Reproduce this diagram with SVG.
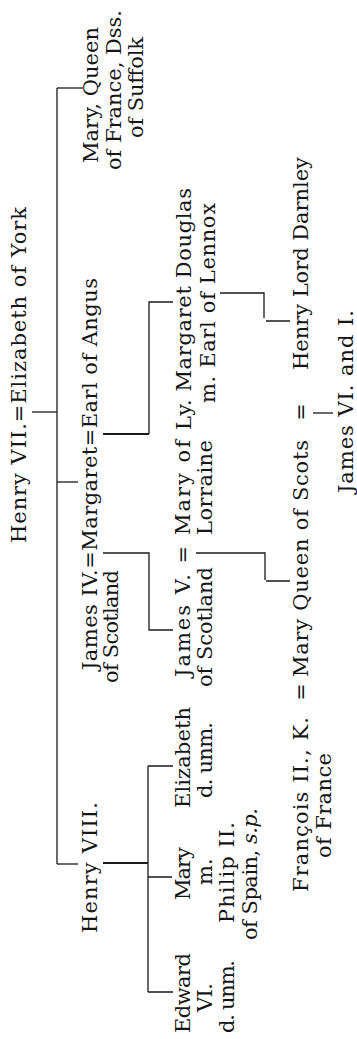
<svg xmlns="http://www.w3.org/2000/svg" width="357" height="1039" viewBox="0 0 357 1039">
<style>
text{font-family:"DejaVu Serif","Liberation Serif",serif;font-size:21px;fill:#151515}
.c{fill:none;stroke:#1a1a1a;stroke-width:1.3}
.k{fill:none;stroke:#1a1a1a;stroke-width:2.2}
</style>
<rect width="357" height="1039" fill="#fff"/>
<g id="connectors">
<path class="c" d="M32,412 H57"/>
<path class="c" d="M57,88 V864"/>
<path class="c" d="M57,88 H83"/>
<path class="c" d="M57,482 H78"/>
<path class="c" d="M57,864 H78"/>
<path class="k" d="M103,863 H148"/>
<path class="c" d="M148,766 V992"/>
<path class="c" d="M148,766 H173 M148,877 H172 M148,992 H173"/>
<path class="c" d="M103,553 H149 V630 H173"/>
<path class="k" d="M103,434 H149"/>
<path class="c" d="M149,434 V302 H173"/>
<path class="c" d="M196,553 H265 V580 M266,581 H290"/>
<path class="c" d="M220,293 H264 V318 M266,321 H290"/>
<path class="c" d="M313,413 H333"/>
</g>
<g id="henry7-elizabeth">
<text transform="translate(26 543) rotate(-90)" textLength="336">Henry VII.=Elizabeth of York</text>
</g>
<g id="mary-queen-of-france">
<text transform="translate(98 163) rotate(-90)" textLength="136">Mary, Queen</text>
<text transform="translate(121 170) rotate(-90)" textLength="160">of France, Dss.</text>
<text transform="translate(143 138) rotate(-90)" textLength="101">of Suffolk</text>
</g>
<g id="margaret">
<text transform="translate(97 670) rotate(-90)" textLength="392">James IV.=Margaret=Earl of Angus</text>
<text transform="translate(118 683) rotate(-90)" textLength="113">of Scotland</text>
</g>
<g id="henry8">
<text transform="translate(97 933) rotate(-90)" textLength="131">Henry VIII.</text>
</g>
<g id="elizabeth">
<text transform="translate(190 808) rotate(-90)" textLength="101">Elizabeth</text>
<text transform="translate(212 798) rotate(-90)" textLength="76">d. unm.</text>
</g>
<g id="mary-tudor">
<text transform="translate(190 900) rotate(-90)" textLength="53">Mary</text>
<text transform="translate(212 885) rotate(-90)">m.</text>
<text transform="translate(234 923) rotate(-90)" textLength="101">Philip II.</text>
<text transform="translate(257 940) rotate(-90)" textLength="132">of Spain, <tspan font-style="italic">s.p.</tspan></text>
</g>
<g id="edward6">
<text transform="translate(190 1033) rotate(-90)" textLength="80">Edward</text>
<text transform="translate(212 1012) rotate(-90)" textLength="29">VI.</text>
<text transform="translate(234 1033) rotate(-90)" textLength="73">d. unm.</text>
</g>
<g id="james5">
<text transform="translate(190 677) rotate(-90)" textLength="237">James V. = Mary of</text>
<text transform="translate(212 687) rotate(-90)" textLength="120">of Scotland</text>
<text transform="translate(212 535) rotate(-90)" textLength="95">Lorraine</text>
</g>
<g id="ly-margaret-douglas">
<text transform="translate(191 430) rotate(-90)" textLength="242">Ly. Margaret Douglas</text>
<text transform="translate(215 403) rotate(-90)" textLength="200">m. Earl of Lennox</text>
</g>
<g id="francois2">
<text transform="translate(308 892) rotate(-90)" textLength="175">François II., K.</text>
<text transform="translate(331 858) rotate(-90)" textLength="105">of France</text>
</g>
<g id="mary-queen-of-scots">
<text transform="translate(308 677) rotate(-90)" textLength="237">Mary Queen of Scots</text>
</g>
<g id="darnley">
<text transform="translate(308 370) rotate(-90)" textLength="213">Henry Lord Darnley</text>
</g>
<g id="marriages">
<text transform="translate(308 692) rotate(-90)" text-anchor="middle">=</text>
<text transform="translate(308 412) rotate(-90)" text-anchor="middle">=</text>
</g>
<g id="james6">
<text transform="translate(353 493) rotate(-90)" textLength="183">James VI. and I.</text>
</g>
</svg>
